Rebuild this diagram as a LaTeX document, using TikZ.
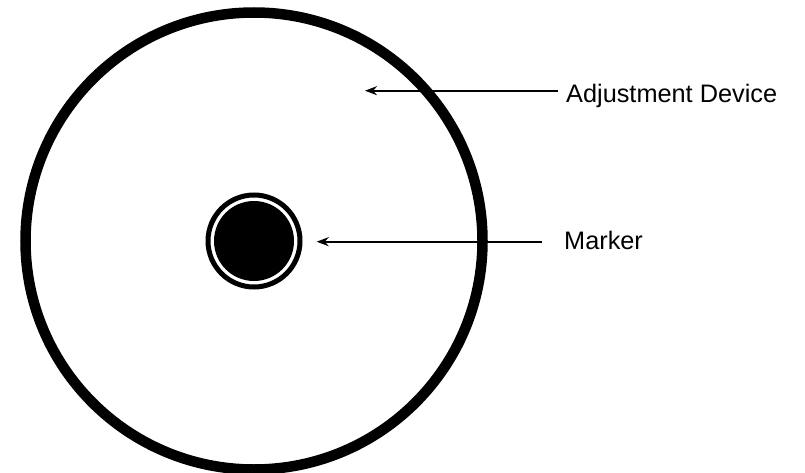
\documentclass[tikz,border=0pt]{standalone}
\usepackage{fontspec}
\setmainfont{Liberation Sans}
\usetikzlibrary{arrows.meta}
\usepackage{xcolor}

\tikzset{
  pointer/.style={line width=2pt, -{Stealth[length=12pt, width=9pt]}},
  label/.style={font=\fontsize{25.3}{30}\selectfont, inner sep=0pt, anchor=base west}
}

\begin{document}
\begin{tikzpicture}[x=1pt, y=1pt]
  \useasboundingbox (0,0) rectangle (805,472);

  % Outer ring (adjustment device)
  \draw[line width=10.5pt] (254,231) circle (228.5);

  % Marker: thin ring with a filled disc inside
  \node[circle, draw, line width=5pt, minimum size=92pt, inner sep=0pt] (marker) at (254,231) {};
  \fill (marker.center) circle (40);

  % Labels
  \node[label] (adjlabel) at (566,369)  {Adjustment Device};
  \node[label] (mklabel)  at (564,222.5) {Marker};

  % Arrows
  \coordinate (adjend) at (558,381.3);
  \coordinate (adjtip) at (365,381.3);
  \coordinate (mkend)  at (542,230.3);
  \draw[pointer] (adjend) -- (adjtip);
  \draw[pointer, shorten >=14.2pt] (mkend) -- (mkend -| marker.east);
\end{tikzpicture}
\end{document}
